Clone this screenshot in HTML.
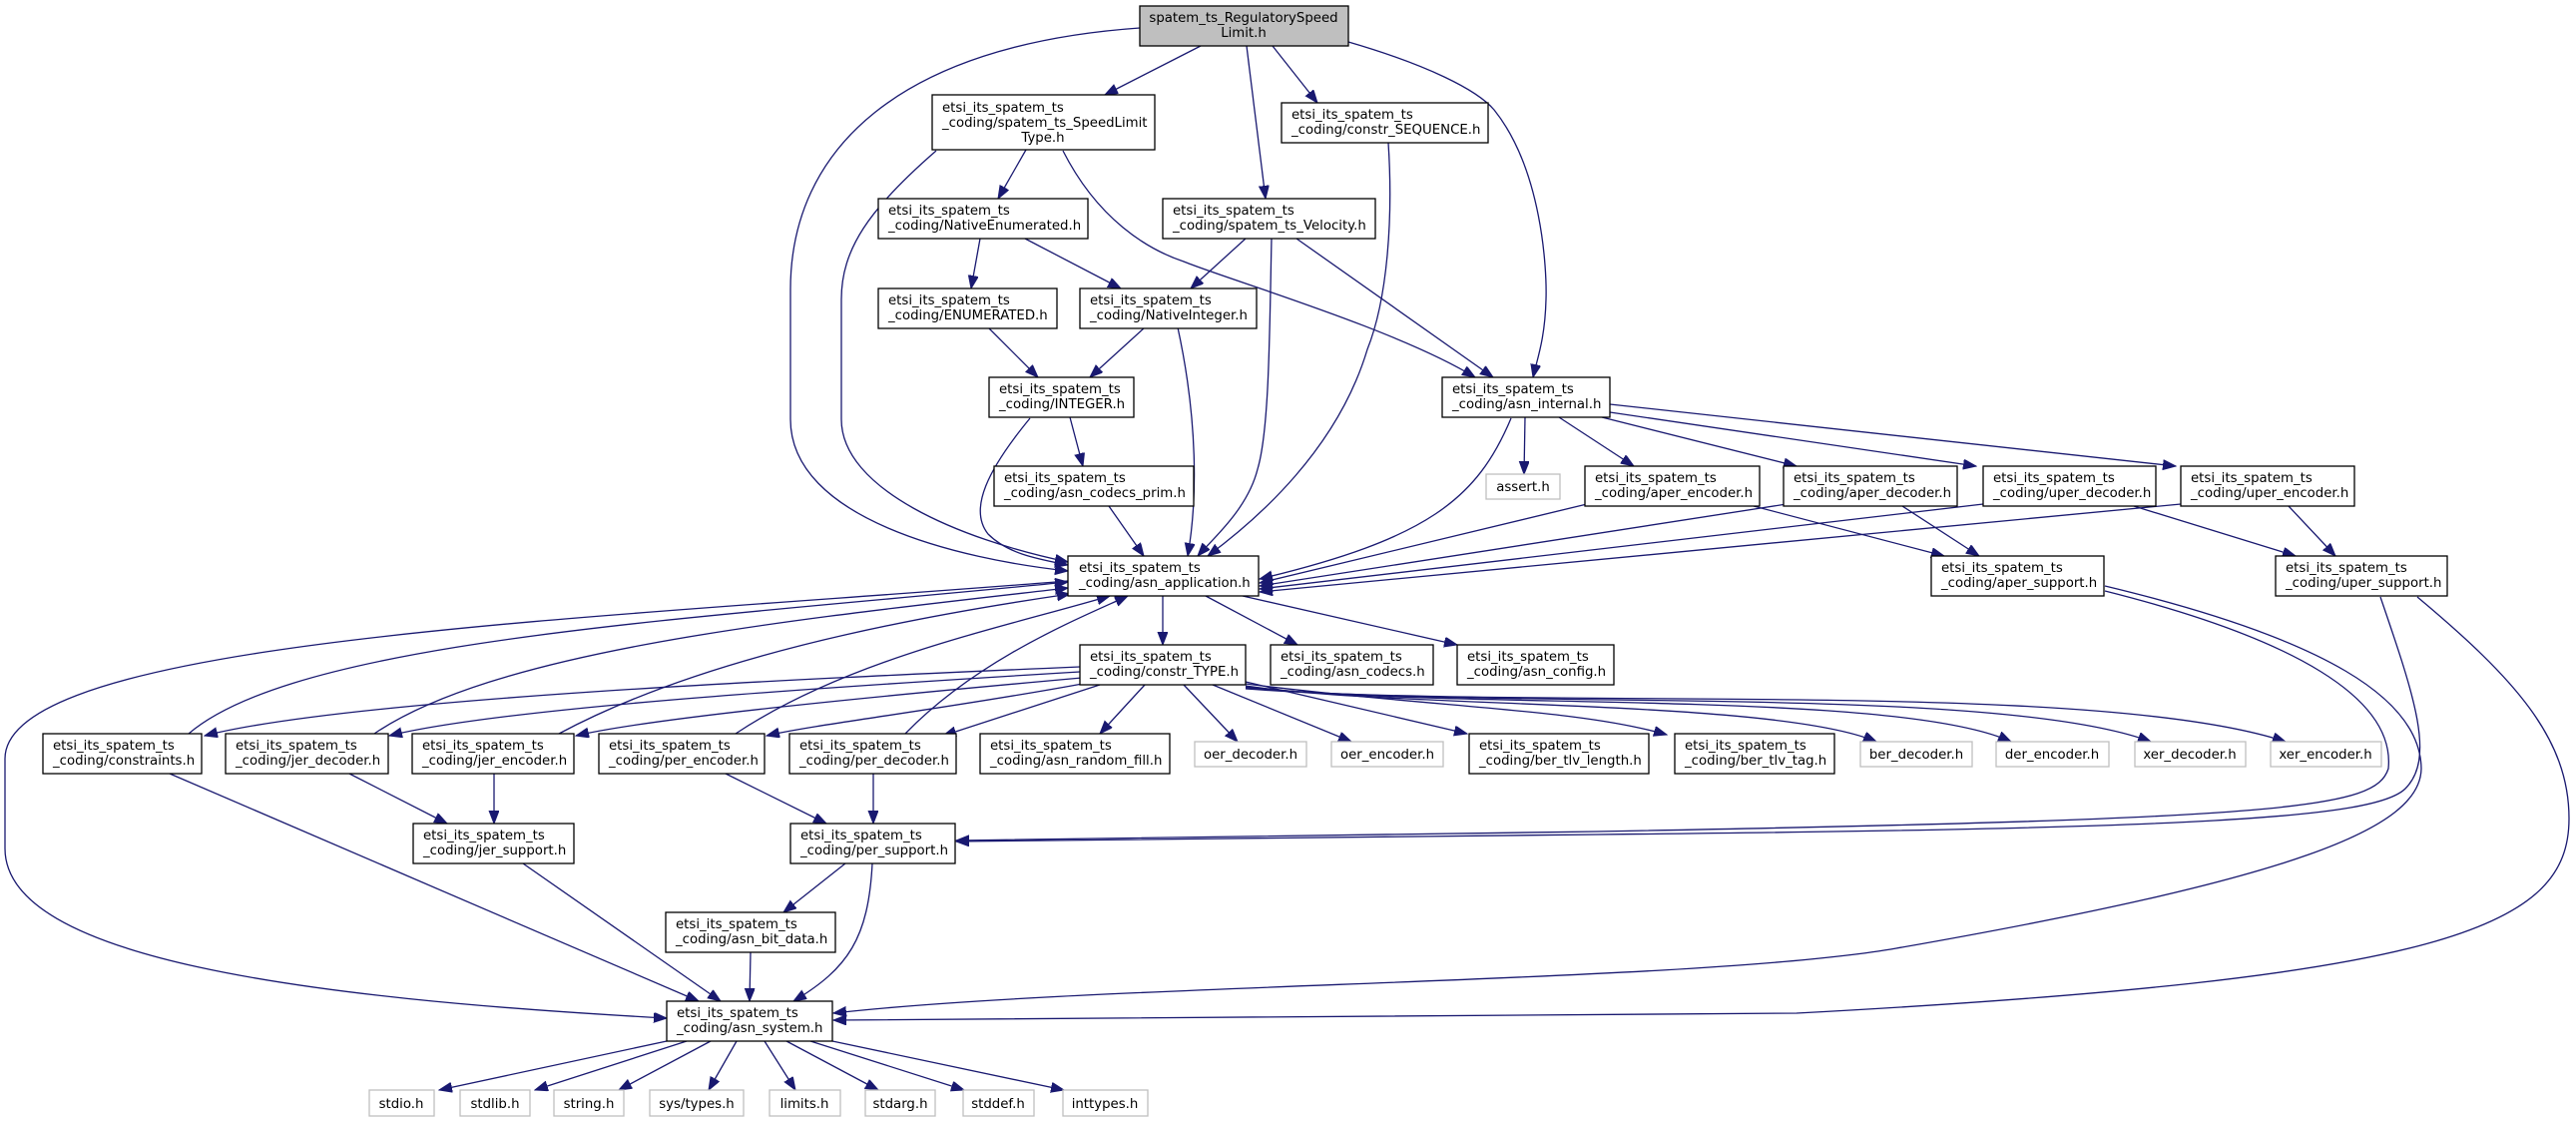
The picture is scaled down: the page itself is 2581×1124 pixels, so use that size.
<!DOCTYPE html>
<html><head><meta charset="utf-8"><style>
html,body{margin:0;padding:0;background:#fff;}
svg{display:block;}
text{font-family:"DejaVu Sans","Liberation Sans",sans-serif;font-size:13.3px;fill:#000;}
.n{fill:#fff;stroke:#000;stroke-width:1.3;}
.g{fill:#fff;stroke:#bfbfbf;stroke-width:1.3;}
.e{fill:none;stroke:#191970;stroke-width:1.3;}
</style></head><body>
<svg width="2581" height="1124" viewBox="0 0 2581 1124" xmlns="http://www.w3.org/2000/svg">
<defs>
<marker id="a" markerUnits="userSpaceOnUse" markerWidth="14" markerHeight="12" refX="13" refY="5" orient="auto">
<path d="M0,0 L13,5 L0,10 Z" fill="#191970" stroke="#191970"/>
</marker>
</defs>
<g class="e" marker-end="url(#a)">
<path d="M1203,46 L1107,95"/>
<path d="M1249,46 L1268,199"/>
<path d="M1275,46 L1320,103"/>
<path d="M1351,42 C1430,65 1480,90 1497,110 C1545,170 1550,270 1549,300 C1548,340 1540,360 1536,378"/>
<path d="M1142,28 C900,45 792,150 792,290 L792,420 C792,520 960,560 1070,572"/>
<path d="M1028,150 L1000,199"/>
<path d="M1065,151 C1100,220 1150,250 1186,262 C1230,280 1400,330 1478,378"/>
<path d="M938,151 C870,210 843,250 843,300 L843,420 C843,490 960,540 1070,563"/>
<path d="M982,239 L973,289"/>
<path d="M1027,239 L1123,289"/>
<path d="M1248,239 L1193,289"/>
<path d="M1299,239 L1496,378"/>
<path d="M1274,239 C1272,330 1272,430 1260,470 C1250,510 1215,540 1200,557"/>
<path d="M1391,143 C1396,220 1390,300 1370,350 C1340,450 1260,520 1210,557"/>
<path d="M990,328 L1040,378"/>
<path d="M1147,328 L1092,378"/>
<path d="M1180,328 C1200,420 1200,500 1190,557"/>
<path d="M1072,418 L1085,467"/>
<path d="M1032,419 C990,470 970,510 990,535 C1010,555 1040,560 1070,566"/>
<path d="M1111,507 L1146,557"/>
<path d="M1528,418 L1527,475"/>
<path d="M1562,418 L1637,467"/>
<path d="M1605,418 L1800,467"/>
<path d="M1613,413 L1980,467"/>
<path d="M1613,405 L2180,467"/>
<path d="M1514,419 C1480,500 1430,540 1262,580"/>
<path d="M1590,505 L1262,584"/>
<path d="M1790,505 L1262,587"/>
<path d="M1987,505 L1262,590"/>
<path d="M2185,505 L1262,593"/>
<path d="M1757,507 L1948,557"/>
<path d="M1906,507 L1983,557"/>
<path d="M2138,507 L2300,557"/>
<path d="M2293,507 L2340,557"/>
<path d="M1165,597 L1165,646"/>
<path d="M1208,597 L1300,646"/>
<path d="M1245,597 L1460,646"/>
<path d="M2109,592 C2300,640 2400,700 2393,770 C2380,810 2300,820 1600,833 L958,842"/>
<path d="M2385,598 C2420,700 2440,760 2410,790 C2380,820 2200,830 1600,836 L958,843"/>
<path d="M2109,587 C2330,640 2425,700 2426,770 C2425,830 2300,880 1900,950 C1700,985 1100,985 835,1015"/>
<path d="M2422,598 C2520,680 2574,740 2574,820 C2574,930 2450,980 1800,1015 L835,1022"/>
<path d="M1070,582 C600,620 5,640 5,760 L5,850 C5,960 300,1000 668,1020"/>
<path d="M1082,668 C800,680 350,700 205,737"/>
<path d="M1082,673 C800,690 500,710 390,737"/>
<path d="M1084,679 C850,700 650,720 577,737"/>
<path d="M1090,684 C950,710 820,725 768,737"/>
<path d="M1102,686 L945,737"/>
<path d="M1147,686 L1102,735"/>
<path d="M1186,686 L1240,743"/>
<path d="M1215,686 L1354,743"/>
<path d="M1248,683 L1470,735"/>
<path d="M1248,685 C1450,710 1580,710 1670,736"/>
<path d="M1248,687 C1400,710 1780,700 1880,743"/>
<path d="M1248,688 C1450,712 1900,690 2015,743"/>
<path d="M1248,689 C1500,712 2000,685 2155,743"/>
<path d="M1248,690 C1550,712 2100,680 2290,743"/>
<path d="M189,735 C300,640 700,620 1070,583"/>
<path d="M375,735 C500,650 800,620 1070,589"/>
<path d="M560,735 C700,660 900,620 1072,595"/>
<path d="M737,735 C850,660 1000,630 1112,597"/>
<path d="M907,735 C980,660 1080,620 1130,597"/>
<path d="M170,775 L700,1003"/>
<path d="M350,775 L448,825"/>
<path d="M495,775 L495,825"/>
<path d="M727,775 L828,825"/>
<path d="M875,775 L875,825"/>
<path d="M524,865 L722,1003"/>
<path d="M847,865 L785,914"/>
<path d="M874,865 C870,940 850,970 795,1003"/>
<path d="M752,954 L751,1003"/>
<path d="M668,1043 L440,1092"/>
<path d="M688,1043 L536,1092"/>
<path d="M712,1043 L620,1092"/>
<path d="M738,1043 L710,1092"/>
<path d="M766,1043 L797,1092"/>
<path d="M788,1043 L880,1092"/>
<path d="M812,1043 L966,1092"/>
<path d="M834,1043 L1066,1092"/>
</g>
<!-- root -->
<rect x="1142" y="6" width="209" height="40" fill="#bfbfbf" stroke="#000" stroke-width="1.3"/>
<text x="1246" y="22" text-anchor="middle">spatem_ts_RegulatorySpeed</text>
<text x="1246" y="37" text-anchor="middle">Limit.h</text>
<!-- 3-line -->
<rect class="n" x="934" y="95" width="223" height="55"/>
<text x="944" y="112">etsi_its_spatem_ts</text>
<text x="944" y="127">_coding/spatem_ts_SpeedLimit</text>
<text x="1045" y="142" text-anchor="middle">Type.h</text>
<!-- 2-line nodes -->
<g>
<rect class="n" x="1284" y="103" width="207" height="40"/><text x="1294" y="119">etsi_its_spatem_ts</text><text x="1294" y="134">_coding/constr_SEQUENCE.h</text>
<rect class="n" x="880" y="199" width="210" height="40"/><text x="890" y="215">etsi_its_spatem_ts</text><text x="890" y="230">_coding/NativeEnumerated.h</text>
<rect class="n" x="1165" y="199" width="213" height="40"/><text x="1175" y="215">etsi_its_spatem_ts</text><text x="1175" y="230">_coding/spatem_ts_Velocity.h</text>
<rect class="n" x="880" y="289" width="179" height="40"/><text x="890" y="305">etsi_its_spatem_ts</text><text x="890" y="320">_coding/ENUMERATED.h</text>
<rect class="n" x="1082" y="289" width="177" height="40"/><text x="1092" y="305">etsi_its_spatem_ts</text><text x="1092" y="320">_coding/NativeInteger.h</text>
<rect class="n" x="991" y="378" width="145" height="40"/><text x="1001" y="394">etsi_its_spatem_ts</text><text x="1001" y="409">_coding/INTEGER.h</text>
<rect class="n" x="1445" y="378" width="168" height="40"/><text x="1455" y="394">etsi_its_spatem_ts</text><text x="1455" y="409">_coding/asn_internal.h</text>
<rect class="n" x="996" y="467" width="200" height="40"/><text x="1006" y="483">etsi_its_spatem_ts</text><text x="1006" y="498">_coding/asn_codecs_prim.h</text>
<rect class="n" x="1588" y="467" width="175" height="40"/><text x="1598" y="483">etsi_its_spatem_ts</text><text x="1598" y="498">_coding/aper_encoder.h</text>
<rect class="n" x="1787" y="467" width="174" height="40"/><text x="1797" y="483">etsi_its_spatem_ts</text><text x="1797" y="498">_coding/aper_decoder.h</text>
<rect class="n" x="1987" y="467" width="173" height="40"/><text x="1997" y="483">etsi_its_spatem_ts</text><text x="1997" y="498">_coding/uper_decoder.h</text>
<rect class="n" x="2185" y="467" width="174" height="40"/><text x="2195" y="483">etsi_its_spatem_ts</text><text x="2195" y="498">_coding/uper_encoder.h</text>
<rect class="n" x="1070" y="557" width="191" height="40"/><text x="1081" y="573">etsi_its_spatem_ts</text><text x="1081" y="588">_coding/asn_application.h</text>
<rect class="n" x="1935" y="557" width="173" height="40"/><text x="1945" y="573">etsi_its_spatem_ts</text><text x="1945" y="588">_coding/aper_support.h</text>
<rect class="n" x="2280" y="557" width="172" height="40"/><text x="2290" y="573">etsi_its_spatem_ts</text><text x="2290" y="588">_coding/uper_support.h</text>
<rect class="n" x="1082" y="646" width="166" height="40"/><text x="1092" y="662">etsi_its_spatem_ts</text><text x="1092" y="677">_coding/constr_TYPE.h</text>
<rect class="n" x="1273" y="646" width="163" height="40"/><text x="1283" y="662">etsi_its_spatem_ts</text><text x="1283" y="677">_coding/asn_codecs.h</text>
<rect class="n" x="1460" y="646" width="157" height="40"/><text x="1470" y="662">etsi_its_spatem_ts</text><text x="1470" y="677">_coding/asn_config.h</text>
<rect class="n" x="43" y="735" width="159" height="40"/><text x="53" y="751">etsi_its_spatem_ts</text><text x="53" y="766">_coding/constraints.h</text>
<rect class="n" x="226" y="735" width="163" height="40"/><text x="236" y="751">etsi_its_spatem_ts</text><text x="236" y="766">_coding/jer_decoder.h</text>
<rect class="n" x="413" y="735" width="162" height="40"/><text x="423" y="751">etsi_its_spatem_ts</text><text x="423" y="766">_coding/jer_encoder.h</text>
<rect class="n" x="600" y="735" width="166" height="40"/><text x="610" y="751">etsi_its_spatem_ts</text><text x="610" y="766">_coding/per_encoder.h</text>
<rect class="n" x="791" y="735" width="167" height="40"/><text x="801" y="751">etsi_its_spatem_ts</text><text x="801" y="766">_coding/per_decoder.h</text>
<rect class="n" x="982" y="735" width="190" height="40"/><text x="992" y="751">etsi_its_spatem_ts</text><text x="992" y="766">_coding/asn_random_fill.h</text>
<rect class="n" x="1472" y="735" width="180" height="40"/><text x="1482" y="751">etsi_its_spatem_ts</text><text x="1482" y="766">_coding/ber_tlv_length.h</text>
<rect class="n" x="1678" y="735" width="160" height="40"/><text x="1688" y="751">etsi_its_spatem_ts</text><text x="1688" y="766">_coding/ber_tlv_tag.h</text>
<rect class="n" x="414" y="825" width="161" height="40"/><text x="424" y="841">etsi_its_spatem_ts</text><text x="424" y="856">_coding/jer_support.h</text>
<rect class="n" x="792" y="825" width="165" height="40"/><text x="802" y="841">etsi_its_spatem_ts</text><text x="802" y="856">_coding/per_support.h</text>
<rect class="n" x="667" y="914" width="170" height="40"/><text x="677" y="930">etsi_its_spatem_ts</text><text x="677" y="945">_coding/asn_bit_data.h</text>
<rect class="n" x="668" y="1003" width="166" height="40"/><text x="678" y="1019">etsi_its_spatem_ts</text><text x="678" y="1034">_coding/asn_system.h</text>
</g>
<!-- gray single-line nodes -->
<g text-anchor="middle">
<rect class="g" x="1489" y="475" width="74" height="25"/><text x="1526" y="492">assert.h</text>
<rect class="g" x="1197" y="743" width="112" height="25"/><text x="1253" y="760">oer_decoder.h</text>
<rect class="g" x="1334" y="743" width="112" height="25"/><text x="1390" y="760">oer_encoder.h</text>
<rect class="g" x="1864" y="743" width="112" height="25"/><text x="1920" y="760">ber_decoder.h</text>
<rect class="g" x="2000" y="743" width="113" height="25"/><text x="2056" y="760">der_encoder.h</text>
<rect class="g" x="2139" y="743" width="111" height="25"/><text x="2194" y="760">xer_decoder.h</text>
<rect class="g" x="2275" y="743" width="111" height="25"/><text x="2330" y="760">xer_encoder.h</text>
<rect class="g" x="370" y="1092" width="65" height="26"/><text x="402" y="1110">stdio.h</text>
<rect class="g" x="461" y="1092" width="70" height="26"/><text x="496" y="1110">stdlib.h</text>
<rect class="g" x="555" y="1092" width="70" height="26"/><text x="590" y="1110">string.h</text>
<rect class="g" x="651" y="1092" width="94" height="26"/><text x="698" y="1110">sys/types.h</text>
<rect class="g" x="771" y="1092" width="71" height="26"/><text x="806" y="1110">limits.h</text>
<rect class="g" x="867" y="1092" width="70" height="26"/><text x="902" y="1110">stdarg.h</text>
<rect class="g" x="965" y="1092" width="71" height="26"/><text x="1000" y="1110">stddef.h</text>
<rect class="g" x="1065" y="1092" width="85" height="26"/><text x="1107" y="1110">inttypes.h</text>
</g>
</svg>
</body></html>
